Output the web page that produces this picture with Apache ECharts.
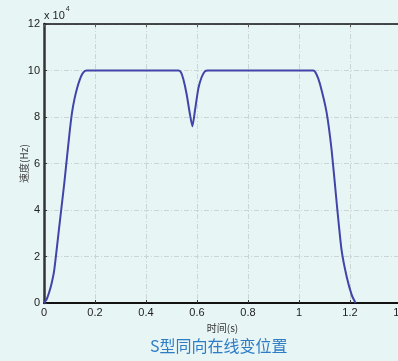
<!DOCTYPE html>
<html>
<head>
<meta charset="utf-8">
<style>
  html, body { margin: 0; padding: 0; background: #e8f5f5; }
  #chart { width: 398px; height: 361px; }
</style>
<script src="https://cdn.jsdelivr.net/npm/echarts@6/dist/echarts.min.js"></script>
</head>
<body>
<div id="chart"></div>
<script>
// Time axis (s) and speed samples (x 10^4 Hz) of the S-curve profile
const timeS = [
  0, 0.01, 0.02, 0.03, 0.04, 0.06, 0.08, 0.10, 0.11, 0.12, 0.13, 0.14, 0.15, 0.16, 0.168,
  0.30, 0.45, 0.527, 0.537, 0.546, 0.559, 0.572, 0.582, 0.592, 0.605, 0.618, 0.631, 0.642,
  0.80, 0.95, 1.056, 1.068, 1.082, 1.108, 1.128, 1.148, 1.167, 1.187, 1.207, 1.222
];
const speed = [
  0, 0.15, 0.45, 0.85, 1.4, 3.3, 5.2, 7.3, 8.2, 8.8, 9.25, 9.6, 9.85, 9.98, 10,
  10, 10, 10, 9.92, 9.64, 9.0, 8.14, 7.6, 8.28, 9.21, 9.71, 9.96, 10,
  10, 10, 10, 9.85, 9.43, 8.21, 6.57, 4.28, 2.27, 1.13, 0.34, 0
];
const xTicks = [0, 0.2, 0.4, 0.6, 0.8, 1, 1.2, 1.4];
const yTicks = [0, 2, 4, 6, 8, 10, 12];

const chart = echarts.init(document.getElementById('chart'));
const labelFont = { color: '#222', fontSize: 11, fontFamily: 'Liberation Sans, Arial, sans-serif' };
const gridLine = { show: true, lineStyle: { color: '#ccd5d5', type: [5, 2, 1, 2], width: 1 } };

chart.setOption({
  backgroundColor: '#e8f5f5',
  animation: false,
  grid: { left: 44, top: 24, right: -3, bottom: 58, containLabel: false, outerBoundsMode: 'none' },
  xAxis: [{
    type: 'value', min: xTicks[0], max: xTicks[xTicks.length - 1], interval: 0.2,
    axisLine: { lineStyle: { color: '#111', width: 2 } },
    axisTick: { inside: true, length: 3, lineStyle: { color: '#333' } },
    axisLabel: Object.assign({ margin: 4, formatter: v => String(+v.toFixed(1)) }, labelFont),
    splitLine: gridLine,
    name: '时间(s)', nameLocation: 'middle', nameGap: 13,
    nameTextStyle: { color: '#333', fontSize: 10, fontFamily: 'Noto Sans CJK SC' }
  }, {
    type: 'value', position: 'top', min: 0, max: 1.4, interval: 0.2,
    axisLine: { show: true, onZero: false, lineStyle: { color: '#111', width: 1.5 } },
    axisTick: { inside: true, length: 3, lineStyle: { color: '#555' } },
    axisLabel: { show: false }, splitLine: { show: false }
  }],
  yAxis: [{
    type: 'value', min: yTicks[0], max: yTicks[yTicks.length - 1], interval: 2,
    axisLine: { show: true, lineStyle: { color: '#333', width: 2.5 } },
    axisTick: { show: true, inside: true, length: 3, lineStyle: { color: '#333' } },
    axisLabel: Object.assign({ margin: 4 }, labelFont),
    splitLine: gridLine,
    name: '速度(Hz)', nameLocation: 'middle', nameGap: 15, nameRotate: 90,
    nameMoveOverlap: false,
    nameTextStyle: { color: '#444', fontSize: 10, fontFamily: 'Noto Sans CJK SC' }
  }, {
    type: 'value', position: 'right', min: 0, max: 12, interval: 2,
    axisLine: { show: true, onZero: false, lineStyle: { color: '#111', width: 1.5 } },
    axisTick: { show: true, inside: true, length: 3, lineStyle: { color: '#555' } },
    axisLabel: { show: false }, splitLine: { show: false }
  }],
  series: [{
    type: 'line',
    data: timeS.map((t, i) => [t, speed[i]]),
    showSymbol: false,
    smooth: 0.2,
    lineStyle: { color: '#4144a8', width: 2 },
    clip: true
  }],
  graphic: [{
    type: 'text', left: 44, top: 6,
    style: {
      text: '{b|x 10}{s|4}',
      rich: {
        b: { fontSize: 11, fill: '#222', fontFamily: 'Liberation Sans, Arial, sans-serif', verticalAlign: 'bottom' },
        s: { fontSize: 7, fill: '#222', fontFamily: 'Liberation Sans, Arial, sans-serif', verticalAlign: 'top', padding: [0, 0, 8, 1] }
      }
    }
  }, {
    type: 'text', left: 150, top: 338,
    style: {
      text: 'S型同向在线变位置', fontSize: 16, fill: '#2d7cc6',
      fontFamily: 'Noto Sans CJK SC'
    }
  }]
});
</script>
</body>
</html>
